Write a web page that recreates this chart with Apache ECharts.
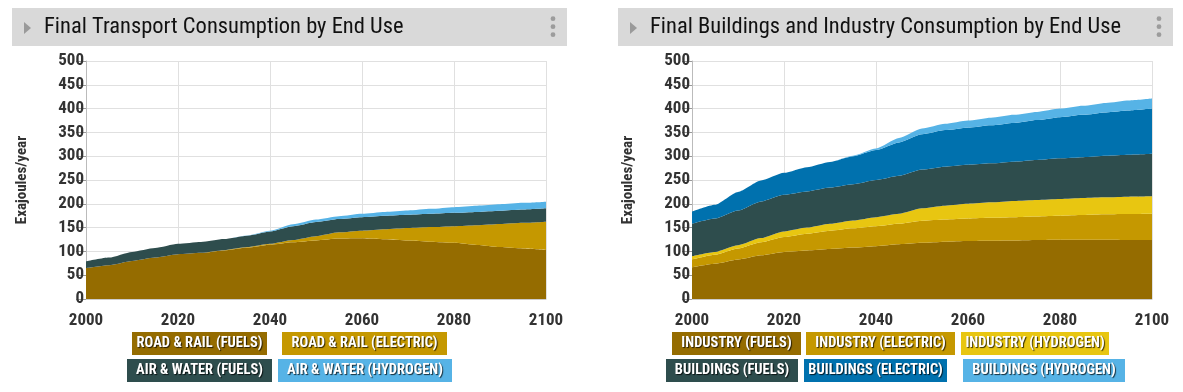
<!DOCTYPE html>
<html>
<head>
<meta charset="utf-8">
<script src="https://cdn.jsdelivr.net/npm/echarts@6/dist/echarts.min.js"></script>
<style>
html,body{margin:0;padding:0;background:#fff;}
#c{width:1183px;height:392px;}
</style>
</head>
<body>
<div id="c"></div>
<script>
// ---- Data ----
const years = [2000,2005,2010,2015,2020,2025,2030,2035,2040,2045,2050,2055,2060,2065,2070,2075,2080,2085,2090,2095,2100];

// Transport (EJ/year)
const roadFuels = [65,71,80,87,94,97,102,108,114,119,123,127,127.5,125.5,123,120.5,118,113.5,109,106,103];
const roadElec  = [0,0,0,0,0,0,0.5,1,2,5,9,13,16,21,26,30.5,35,41.5,48.5,54,59.5];
const airFuels  = [14,16,19,20,22,23,23.5,24,26,29,30,28,28.5,28.5,28,28,28,28,28,28,28];
const airH2     = [0,0,0,0,0,0,0,0.5,1.5,4,5,6,7,8,9,10.5,12,13,13.5,14,14];

// Buildings & Industry (EJ/year)
const indFuels = [66.5,74,83,92,99,102,105,108,111,115,118,120.5,122,122.5,123,124,124.5,124.5,124.5,124,124];
const indElec  = [16.5,19,23,27,31,35,38.5,40.5,42,43,46.5,46.5,47,48,49,49.5,50.5,52,53.5,54.5,55];
const indH2    = [7,6,7,9,12,13,14.5,16.5,19,21,26,29,31,32.5,34,34.5,35,35.5,35.5,36.5,36.7];
const bldFuels = [68,70,73,77,77,76,76,76,78,80,81.5,82,82,82,82.5,84,85.5,86,87.5,88,89.3];
const bldElec  = [25.5,29,39,44,46,51,54,59,63,70,74,77,78,80,81.5,84,86.5,89,91,93,95];
const bldH2    = [0,0,0,0,0,0,0,1,3,9,12,13,15,16,17,17,18,19,20,21,21];

const xLabelEvery = 4;            // show 2000, 2020, ... 2100
const yTicks = {min:0, max:500, interval:50};

const titles = ['Final Transport Consumption by End Use','Final Buildings and Industry Consumption by End Use'];
const yName = 'Exajoules/year';

const leftNames  = ['ROAD & RAIL (FUELS)','ROAD & RAIL (ELECTRIC)','AIR & WATER (FUELS)','AIR & WATER (HYDROGEN)'];
const rightNames = ['INDUSTRY (FUELS)','INDUSTRY (ELECTRIC)','INDUSTRY (HYDROGEN)','BUILDINGS (FUELS)','BUILDINGS (ELECTRIC)','BUILDINGS (HYDROGEN)'];

// ---- Styles ----
const C = {
  brown:'#956c00', gold:'#c59800', yellow:'#e8c611', dark:'#2e4d4d', blue:'#0071ae', sky:'#56b3e6'
};
const leftColors  = [C.brown, C.gold, C.dark, C.sky];
const rightColors = [C.brown, C.gold, C.yellow, C.dark, C.blue, C.sky];
const leftData  = [roadFuels, roadElec, airFuels, airH2];
const rightData = [indFuels, indElec, indH2, bldFuels, bldElec, bldH2];

const cond = "'Roboto Condensed', Roboto, sans-serif";
const labelFont = {fontFamily:cond, fontWeight:'bold', fontSize:17, color:'#333'};

function makeSeries(names, data, colors, idx, stack){
  return names.map((n,i)=>({
    name:n, type:'line', xAxisIndex:idx, yAxisIndex:idx, stack:stack,
    symbol:'none', smooth:0.2, smoothMonotone:'x',
    lineStyle:{width:0}, itemStyle:{color:colors[i]},
    areaStyle:{color:colors[i], opacity:1},
    data:data[i]
  }));
}

function xAxis(idx){
  return {gridIndex:idx, type:'category', data:years.map(String), boundaryGap:false,
    axisLabel:Object.assign({margin:13, interval:xLabelEvery-1}, labelFont),
    axisTick:{show:false}, axisLine:{show:true, lineStyle:{color:'#cccccc'}},
    splitLine:{show:true, interval:xLabelEvery-1, lineStyle:{color:'#e0e0e0'}}};
}
function yAxis(idx){
  return {gridIndex:idx, type:'value', min:yTicks.min, max:yTicks.max, interval:yTicks.interval,
    name:yName, nameLocation:'middle', nameGap:56,
    nameTextStyle:{fontFamily:cond, fontWeight:'bold', fontSize:15, color:'#333'},
    axisLabel:Object.assign({margin:2}, labelFont),
    axisTick:{show:true, length:10, lineStyle:{color:'#999'}},
    axisLine:{show:true, lineStyle:{color:'#bbbbbb'}},
    splitLine:{show:true, lineStyle:{color:'#e0e0e0'}}};
}

// one legend per swatch, boxes sized like the reference
function legendItem(name, color, left, top, boxW){
  return {
    left:left, top:top, padding:0, itemWidth:0, itemHeight:0, icon:'rect', selectedMode:false,
    itemStyle:{opacity:0}, lineStyle:{width:0},
    data:[name],
    formatter:'{b|{name}}',
    textStyle:{rich:{b:{
      width:boxW-10, align:'center', color:'#fff', fontFamily:cond, fontWeight:'bold',
      fontSize:14.5, lineHeight:15, padding:[4,5,4,5], backgroundColor:color,
      textShadowColor:'rgba(0,0,0,0.75)', textShadowBlur:1, textShadowOffsetX:1, textShadowOffsetY:1
    }}}
  };
}

function titleBar(x, w, text){
  return [
    {type:'rect', shape:{x:x, y:8, width:w, height:38}, style:{fill:'#d9d9d9'}, silent:true},
    {type:'polygon', shape:{points:[[x+12,22],[x+12,34],[x+19,28]]}, style:{fill:'#9a9a9a'}, silent:true},
    {type:'text', x:x+32, y:27, style:{text:text, fill:'#111', fontSize:22.5, fontFamily:cond, fontWeight:'normal', verticalAlign:'middle', textVerticalAlign:'middle'}, silent:true},
    {type:'circle', shape:{cx:x+w-14, cy:18.7, r:2.4}, style:{fill:'#9c9c9c'}, silent:true},
    {type:'circle', shape:{cx:x+w-14, cy:26.7, r:2.4}, style:{fill:'#9c9c9c'}, silent:true},
    {type:'circle', shape:{cx:x+w-14, cy:34.7, r:2.4}, style:{fill:'#9c9c9c'}, silent:true}
  ];
}

const option = {
  animation:false,
  backgroundColor:'#ffffff',
  grid:[
    {left:86, top:61, width:460, height:238},
    {left:692, top:61, width:460, height:238}
  ],
  xAxis:[xAxis(0), xAxis(1)],
  yAxis:[yAxis(0), yAxis(1)],
  legend:[
    legendItem(leftNames[0], leftColors[0], 127, 332, 135),
    legendItem(leftNames[1], leftColors[1], 277, 332, 165),
    legendItem(leftNames[2], leftColors[2], 122, 359, 145),
    legendItem(leftNames[3], leftColors[3], 273, 359, 174),
    legendItem(rightNames[0], rightColors[0], 667, 332, 129),
    legendItem(rightNames[1], rightColors[1], 801, 332, 149),
    legendItem(rightNames[2], rightColors[2], 956, 332, 148),
    legendItem(rightNames[3], rightColors[3], 661, 359, 132),
    legendItem(rightNames[4], rightColors[4], 799, 359, 143),
    legendItem(rightNames[5], rightColors[5], 958, 359, 162)
  ],
  graphic:[].concat(titleBar(12, 555, titles[0]), titleBar(618, 555, titles[1])),
  series:[].concat(
    makeSeries(leftNames, leftData, leftColors, 0, 'transport'),
    makeSeries(rightNames, rightData, rightColors, 1, 'bi')
  )
};

const chart = echarts.init(document.getElementById('c'), null, {renderer:'canvas'});
chart.setOption(option);
</script>
</body>
</html>
